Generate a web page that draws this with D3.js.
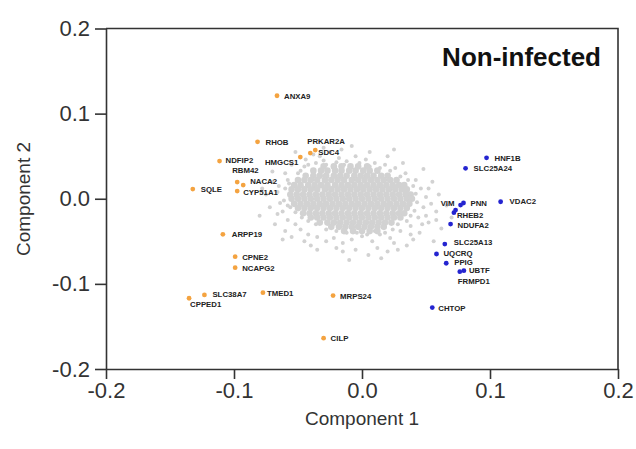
<!DOCTYPE html>
<html>
<head>
<meta charset="utf-8">
<script src="https://cdn.jsdelivr.net/npm/d3@7"></script>
<style>
body{margin:0;background:#fff;}
svg{display:block;font-family:Arial,"Liberation Sans",sans-serif;}
</style>
</head>
<body>
<svg id="chart" width="636" height="449"></svg>
<script>
// axis ticks
var xTicks = [-0.2, -0.1, 0.0, 0.1, 0.2];
var yTicks = [-0.2, -0.1, 0.0, 0.1, 0.2];

// highlighted genes, negative side of component 1
var orangeGenes = ['ANXA9','RHOB','PRKAR2A','SDC4','HMGCS1','NDFIP2','RBM42','NACA2','CYP51A1','SQLE','ARPP19','CPNE2','NCAPG2','SLC38A7','CPPED1','TMED1','MRPS24','CILP'];
var orangeX = [-0.0664,-0.0816,-0.0365,-0.0404,-0.0482,-0.1113,-0.0975,-0.0928,-0.0975,-0.1322,-0.1087,-0.0991,-0.0991,-0.1231,-0.1351,-0.0774,-0.0226,-0.0300];
var orangeY = [0.121,0.0669,0.0572,0.0536,0.0489,0.0442,0.0196,0.0161,0.0090,0.0114,-0.0418,-0.0681,-0.0810,-0.1130,-0.1169,-0.1103,-0.1138,-0.1638];

// highlighted genes, positive side of component 1
var blueGenes = ['HNF1B','SLC25A24','VIM','PNN','VDAC2','RHEB2','NDUFA2','SLC25A13','UQCRQ','PPIG','UBTF','FRMPD1','CHTOP'];
var blueX = [0.0973,0.0809,0.0770,0.0793,0.1083,0.0718,0.0692,0.0647,0.0582,0.0658,0.0796,0.0764,0.0549];
var blueY = [0.0481,0.0357,-0.0074,-0.0050,-0.0035,-0.0164,-0.0297,-0.0532,-0.0649,-0.0758,-0.0845,-0.0857,-0.1279];
var blueExtra = [[0.0731,-0.0133]]; // overlapping dot next to RHEB2

// label placement (px offset from dot, anchor)
var labelPos = {
  ANXA9:[7,3], RHOB:[8,3], PRKAR2A:[-8,-6], SDC4:[8,2], HMGCS1:[-2,8,'end'], NDFIP2:[6,2],
  RBM42:[-5,-9], NACA2:[7,-1], CYP51A1:[6,4], SQLE:[8,3], ARPP19:[9,3], CPNE2:[7,3],
  NCAPG2:[7,3], SLC38A7:[8,2], CPPED1:[1,9], TMED1:[4,3], MRPS24:[7,3], CILP:[7,3],
  HNF1B:[8,3], SLC25A24:[8,3], VIM:[-6,1,'end'], PNN:[7,3], VDAC2:[9,2], RHEB2:[3,5],
  NDUFA2:[7,4], SLC25A13:[9,1], UQCRQ:[7,2], PPIG:[8,2], UBTF:[5,2], FRMPD1:[-2,12], CHTOP:[6,3]
};

// background proteins, dense core (values x1000): [y, [x...]]
var coreRows = [
  [38, [-30,-22,-16,-9,-3,4]],
  [33, [-38,-32,-27,-21,-16,-10,-5,1,6,12]],
  [27, [-44,-38,-33,-28,-22,-17,-12,-6,-1,4,9,15,20]],
  [22, [-50,-45,-40,-35,-29,-24,-19,-14,-8,-3,2,7,12,17,22,27]],
  [16, [-53,-48,-42,-37,-32,-27,-21,-16,-11,-6,-1,4,9,14,19,24,29,33]],
  [11, [-55,-50,-45,-40,-35,-29,-24,-19,-14,-9,-4,1,6,11,16,21,26,31,35]],
  [5,  [-56,-51,-46,-41,-36,-31,-26,-21,-16,-11,-6,-1,4,9,14,19,24,29,34,38]],
  [0,  [-55,-50,-45,-40,-35,-30,-25,-20,-15,-10,-5,0,5,10,15,20,25,30,35,39]],
  [-6, [-53,-48,-43,-38,-33,-28,-23,-18,-13,-8,-3,2,7,12,17,22,27,32,37]],
  [-11,[-50,-45,-40,-35,-30,-25,-20,-15,-10,-5,0,5,10,15,20,25,30,35]],
  [-17,[-46,-41,-36,-31,-26,-21,-16,-11,-6,-1,4,9,14,19,24,29,33]],
  [-22,[-40,-35,-30,-25,-20,-15,-10,-5,0,5,10,15,20,25,30]],
  [-28,[-33,-27,-22,-17,-12,-7,-2,3,8,13,18,23]],
  [-33,[-24,-18,-13,-8,-3,2,7,12,17]],
  [-38,[-14,-7,0,6,12]]
];

// background proteins, scattered edge (values x1000): [x, y]
var sparsePts = [
  [-70,20],[-66,8],[-64,-5],[-62,-15],[-60,30],[-58,-25],[-55,40],[-52,-30],[-44,46],[-48,-36],
  [-45,38],[-42,-42],[-38,52],[-35,-45],[-30,45],[-28,-50],[-25,55],[-22,-46],[-18,48],[-15,-52],
  [-12,44],[-8,-48],[-5,50],[0,-44],[3,46],[8,-50],[10,42],[14,-42],[18,40],[22,-46],
  [26,36],[30,-38],[34,30],[38,-32],[42,22],[44,-22],[46,12],[48,-10],[50,2],[52,-28],
  [45,-40],[55,20],[40,-48],[35,-55],[28,-60],[20,-62],[12,-58],[5,-66],[-5,-60],[-20,-58],
  [-40,-55],[-55,-45],[-68,-30],[-72,-10],[-75,5],[-65,15],[-58,22],[58,-15],[60,5],[62,-35],
  [-80,-20],[-62,-48],[-10,-72],[15,-70],[25,58],[-30,60],[48,35],[56,-50],
  [-60,12],[-58,-8],[-57,18],[-61,-2],[-50,30],[-48,33],[-42,40],[-36,42],[-28,40],[-20,43],
  [-14,40],[-2,42],[6,38],[14,36],[22,33],[30,26],[36,22],[40,15],[42,6],[43,-4],
  [41,-14],[38,-20],[35,-26],[28,-30],[24,-36],[18,-40],[10,-38],[4,-42],[-4,-40],[-12,-40],
  [-20,-38],[-28,-36],[-36,-30],[-42,-26],[-47,-22],[-52,-16],[-56,-10],
  [-66,-18],[-70,32],[-52,55],[-33,50],[-16,58],[6,55],[32,42],[52,12],[54,-6],
  [50,-20],[47,-30],[58,-25],[38,-42],[25,-52],[-15,-62],[-35,-60],[-45,-50],[-60,-38],[-78,12],
  [66,-8],[70,-22],[20,50],[-8,62]
];

var W = 636, H = 449;
var svg = d3.select('#chart');
svg.append('rect').attr('width', W).attr('height', H).attr('fill', '#fff');

var x = d3.scaleLinear().domain([-0.2, 0.2]).range([106, 618]);
var y = d3.scaleLinear().domain([-0.2, 0.2]).range([369, 28.5]);
var fmt = function(d){ return d.toFixed(1); };

// gray cloud
var cloud = svg.append('g').attr('fill', '#d2d2d2');
coreRows.forEach(function(r){
  r[1].forEach(function(v){
    cloud.append('circle').attr('cx', x(v/1000)).attr('cy', y(r[0]/1000)).attr('r', 3.3);
  });
});
cloud.selectAll('circle.sp').data(sparsePts).enter().append('circle')
  .attr('class', 'sp')
  .attr('cx', function(d){ return x(d[0]/1000); })
  .attr('cy', function(d){ return y(d[1]/1000); })
  .attr('r', 2);

// highlighted dots
function drawGroup(names, xs, ys, color) {
  var pts = names.map(function(n, i){ return {name: n, x: xs[i], y: ys[i]}; });
  svg.append('g').selectAll('circle').data(pts).enter().append('circle')
    .attr('cx', function(d){ return x(d.x); })
    .attr('cy', function(d){ return y(d.y); })
    .attr('r', 2.4)
    .attr('fill', color);
  return pts;
}
var orangePts = drawGroup(orangeGenes, orangeX, orangeY, '#f4a340');
var bluePts = drawGroup(blueGenes, blueX, blueY, '#2424d0');
svg.append('g').selectAll('circle').data(blueExtra).enter().append('circle')
  .attr('cx', function(d){ return x(d[0]); })
  .attr('cy', function(d){ return y(d[1]); })
  .attr('r', 2.4).attr('fill', '#2424d0');

// gene labels
svg.append('g').selectAll('text').data(orangePts.concat(bluePts)).enter().append('text')
  .attr('x', function(d){ return x(d.x) + labelPos[d.name][0]; })
  .attr('y', function(d){ return y(d.y) + labelPos[d.name][1]; })
  .attr('text-anchor', function(d){ return labelPos[d.name][2] || 'start'; })
  .attr('font-size', 7.8)
  .attr('font-weight', 'bold')
  .attr('fill', '#222')
  .text(function(d){ return d.name; });

// axes
var xAxis = svg.append('g').attr('transform', 'translate(0,369)')
  .call(d3.axisBottom(x).tickValues(xTicks).tickFormat(fmt).tickSize(10).tickPadding(3).tickSizeOuter(0));
var yAxis = svg.append('g').attr('transform', 'translate(106,0)')
  .call(d3.axisLeft(y).tickValues(yTicks).tickFormat(fmt).tickSize(11).tickPadding(5).tickSizeOuter(0));
[xAxis, yAxis].forEach(function(a){
  a.selectAll('path, line').attr('stroke', '#333').attr('stroke-width', 1.6);
  a.selectAll('text').attr('font-size', 22).attr('fill', '#333').attr('font-family', 'Arial, "Liberation Sans", sans-serif');
});

// top and right frame
svg.append('path')
  .attr('d', 'M' + x(-0.2) + ',' + y(0.2) + 'H' + x(0.2) + 'V' + y(-0.2))
  .attr('fill', 'none').attr('stroke', '#333').attr('stroke-width', 1.6);

// titles
svg.append('text').attr('x', 362).attr('y', 425).attr('text-anchor', 'middle')
  .attr('font-size', 19).attr('fill', '#333').text('Component 1');
svg.append('text').attr('transform', 'translate(30,199) rotate(-90)').attr('text-anchor', 'middle')
  .attr('font-size', 19).attr('fill', '#333').text('Component 2');
svg.append('text').attr('x', 601).attr('y', 66).attr('text-anchor', 'end')
  .attr('font-size', 26).attr('font-weight', 'bold').attr('fill', '#111').text('Non-infected');
</script>
</body>
</html>
